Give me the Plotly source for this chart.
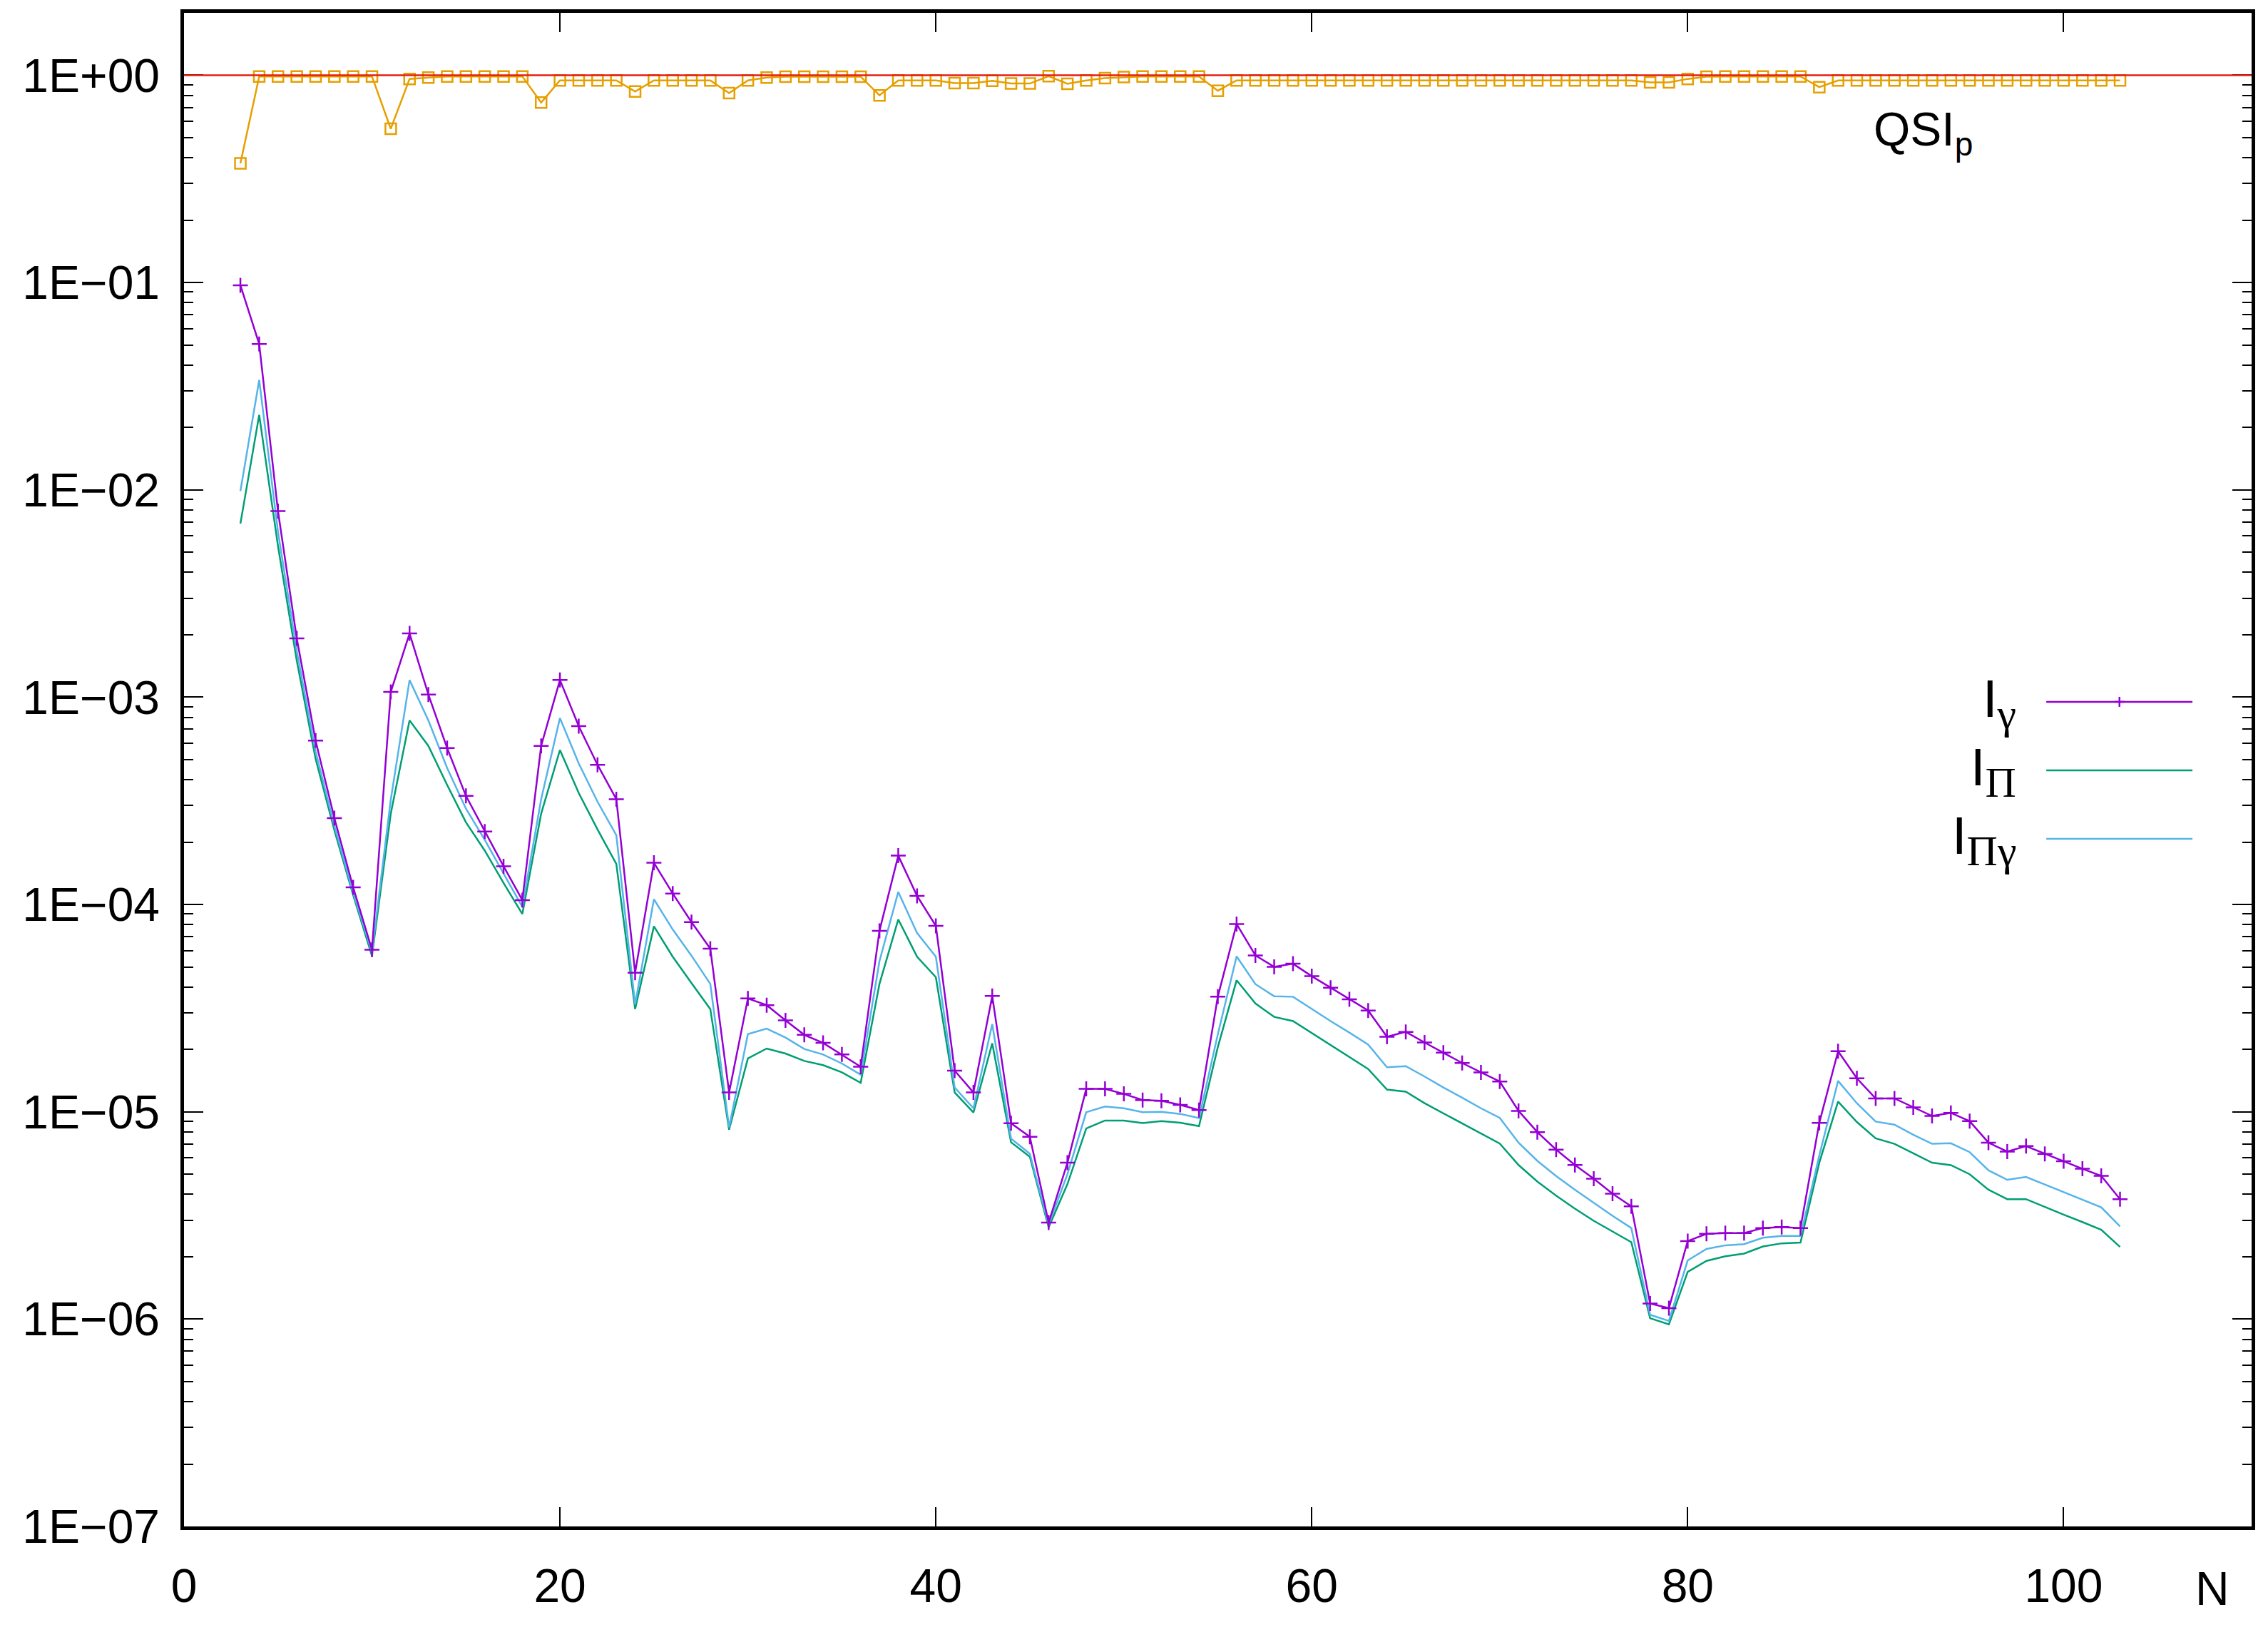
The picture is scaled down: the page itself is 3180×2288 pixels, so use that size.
import plotly.graph_objects as go

# chain length N, one value per N from 3 to 103
n_values = list(range(3, 104))

# I_gamma (purple, with + markers)
i_gamma = [
    0.097, 0.0505, 0.0079, 0.00192, 0.000618, 0.000261, 0.000121, 6.05e-5, 0.00106, 0.00203,
    0.00103, 0.000568, 0.000334, 0.000225, 0.000153, 0.000105, 0.000582, 0.00121, 0.000725, 0.000472,
    0.000322, 4.69e-5, 0.000159, 0.000113, 8.22e-5, 6.12e-5, 1.24e-5, 3.52e-5, 3.27e-5, 2.76e-5,
    2.35e-5, 2.15e-5, 1.89e-5, 1.65e-5, 7.47e-5, 0.000172, 0.000110, 7.89e-5, 1.58e-5, 1.24e-5,
    3.62e-5, 8.81e-6, 7.57e-6, 2.92e-6, 5.68e-6, 1.29e-5, 1.29e-5, 1.22e-5, 1.14e-5, 1.13e-5,
    1.08e-5, 1.02e-5, 3.59e-5, 8.05e-5, 5.68e-5, 5.0e-5, 5.18e-5, 4.51e-5, 3.97e-5, 3.49e-5,
    3.08e-5, 2.3e-5, 2.43e-5, 2.16e-5, 1.93e-5, 1.72e-5, 1.55e-5, 1.4e-5, 1.01e-5, 7.98e-6,
    6.57e-6, 5.54e-6, 4.76e-6, 4.03e-6, 3.5e-6, 1.19e-6, 1.13e-6, 2.38e-6, 2.58e-6, 2.6e-6,
    2.6e-6, 2.75e-6, 2.78e-6, 2.75e-6, 8.85e-6, 1.96e-5, 1.45e-5, 1.16e-5, 1.16e-5, 1.05e-5,
    9.55e-6, 9.88e-6, 9.01e-6, 7.1e-6, 6.43e-6, 6.83e-6, 6.27e-6, 5.78e-6, 5.31e-6, 4.91e-6,
    3.79e-6,
]

# I_Pi (green)
i_pi = [
    0.00687, 0.0230, 0.00536, 0.0015, 0.000505, 0.000228, 0.000111, 5.65e-5, 0.000274, 0.000773,
    0.000582, 0.000377, 0.000249, 0.000182, 0.000127, 9.0e-5, 0.000274, 0.000556, 0.000345, 0.00023,
    0.000157, 3.13e-5, 7.85e-5, 5.6e-5, 4.18e-5, 3.13e-5, 8.2e-6, 1.81e-5, 2.02e-5, 1.91e-5,
    1.76e-5, 1.68e-5, 1.55e-5, 1.38e-5, 4.14e-5, 8.47e-5, 5.6e-5, 4.46e-5, 1.24e-5, 9.93e-6,
    2.14e-5, 7.13e-6, 6.07e-6, 2.77e-6, 4.48e-6, 8.31e-6, 9.08e-6, 9.08e-6, 8.83e-6, 9.02e-6,
    8.86e-6, 8.53e-6, 2.05e-5, 4.31e-5, 3.33e-5, 2.87e-5, 2.74e-5, 2.4e-5, 2.1e-5, 1.83e-5,
    1.61e-5, 1.28e-5, 1.25e-5, 1.1e-5, 9.84e-6, 8.79e-6, 7.84e-6, 7.03e-6, 5.54e-6, 4.61e-6,
    3.94e-6, 3.41e-6, 2.98e-6, 2.64e-6, 2.35e-6, 1.01e-6, 9.44e-7, 1.69e-6, 1.91e-6, 2.01e-6,
    2.07e-6, 2.24e-6, 2.32e-6, 2.34e-6, 5.68e-6, 1.12e-5, 8.93e-6, 7.45e-6, 7.01e-6, 6.31e-6,
    5.68e-6, 5.53e-6, 5.0e-6, 4.21e-6, 3.79e-6, 3.79e-6, 3.47e-6, 3.19e-6, 2.94e-6, 2.7e-6,
    2.23e-6,
]

# I_PiGamma (light blue)
i_pi_gamma = [
    0.00986, 0.0339, 0.00628, 0.00167, 0.000547, 0.00024, 0.000114, 5.89e-5, 0.00032, 0.00121,
    0.000773, 0.000455, 0.00029, 0.000205, 0.000141, 9.75e-5, 0.000322, 0.000793, 0.000479, 0.000313,
    0.000216, 3.3e-5, 0.000106, 7.58e-5, 5.66e-5, 4.14e-5, 8.42e-6, 2.37e-5, 2.52e-5, 2.28e-5,
    2.01e-5, 1.89e-5, 1.71e-5, 1.51e-5, 5.33e-5, 0.000115, 7.28e-5, 5.6e-5, 1.31e-5, 1.04e-5,
    2.65e-5, 7.43e-6, 6.28e-6, 2.85e-6, 5.0e-6, 9.95e-6, 1.06e-5, 1.04e-5, 9.95e-6, 1.0e-5,
    9.77e-6, 9.33e-6, 2.36e-5, 5.62e-5, 4.13e-5, 3.61e-5, 3.59e-5, 3.13e-5, 2.74e-5, 2.41e-5,
    2.11e-5, 1.64e-5, 1.66e-5, 1.48e-5, 1.31e-5, 1.17e-5, 1.04e-5, 9.35e-6, 7.1e-6, 5.8e-6,
    4.9e-6, 4.21e-6, 3.63e-6, 3.15e-6, 2.75e-6, 1.05e-6, 9.8e-7, 1.92e-6, 2.18e-6, 2.27e-6,
    2.3e-6, 2.47e-6, 2.52e-6, 2.52e-6, 6.15e-6, 1.41e-5, 1.1e-5, 8.97e-6, 8.67e-6, 7.75e-6,
    7.01e-6, 7.05e-6, 6.39e-6, 5.22e-6, 4.7e-6, 4.85e-6, 4.46e-6, 4.09e-6, 3.76e-6, 3.46e-6,
    2.8e-6,
]

# QSI_p (orange, open squares)
qsi_p = [
    0.376, 0.987, 0.987, 0.987, 0.987, 0.987, 0.987, 0.987, 0.552, 0.96,
    0.975, 0.987, 0.987, 0.987, 0.987, 0.987, 0.738, 0.944, 0.944, 0.944,
    0.944, 0.835, 0.944, 0.944, 0.944, 0.944, 0.82, 0.944, 0.974, 0.985,
    0.985, 0.985, 0.985, 0.985, 0.80, 0.944, 0.944, 0.944, 0.917, 0.917,
    0.94, 0.912, 0.912, 0.99, 0.91, 0.944, 0.969, 0.98, 0.987, 0.987,
    0.987, 0.987, 0.842, 0.944, 0.944, 0.944, 0.944, 0.944, 0.944, 0.944,
    0.944, 0.944, 0.944, 0.944, 0.944, 0.944, 0.944, 0.944, 0.944, 0.944,
    0.944, 0.944, 0.944, 0.944, 0.944, 0.924, 0.924, 0.96, 0.985, 0.987,
    0.987, 0.987, 0.987, 0.987, 0.876, 0.944, 0.944, 0.944, 0.944, 0.944,
    0.944, 0.944, 0.944, 0.944, 0.944, 0.944, 0.944, 0.944, 0.944, 0.944,
    0.944,
]

qsi_ref = 1.0  # red reference line

y_tickvals = [1, 1e-1, 1e-2, 1e-3, 1e-4, 1e-5, 1e-6, 1e-7]
y_ticktext = ["1E+00", "1E\u221201", "1E\u221202", "1E\u221203",
              "1E\u221204", "1E\u221205", "1E\u221206", "1E\u221207"]
x_tickvals = [0, 20, 40, 60, 80, 100]

PURPLE = "#9400d3"
GREEN = "#009e73"
BLUE = "#56b4e9"
ORANGE = "#e69f00"
RED = "#e51e10"
SANS = "Liberation Sans"
SERIF = "Liberation Serif"

fig = go.Figure()
fig.add_trace(go.Scatter(x=n_values, y=qsi_p, mode="lines+markers",
                         line=dict(color=ORANGE, width=2.5),
                         marker=dict(symbol="square-open", size=15,
                                     line=dict(color=ORANGE, width=2.5))))
fig.add_trace(go.Scatter(x=n_values, y=i_pi, mode="lines",
                         line=dict(color=GREEN, width=2.5)))
fig.add_trace(go.Scatter(x=n_values, y=i_pi_gamma, mode="lines",
                         line=dict(color=BLUE, width=2.5)))
fig.add_trace(go.Scatter(x=n_values, y=i_gamma, mode="lines+markers",
                         line=dict(color=PURPLE, width=2.5),
                         marker=dict(symbol="cross-thin", size=15,
                                     line=dict(color=PURPLE, width=2.5))))
fig.add_hline(y=qsi_ref, line=dict(color=RED, width=2.5))


def greek(s):
    return ("<span style='font-family:%s;font-size:60px'>%s</span>"
            % (SERIF, s))


# gnuplot style key: text right aligned, sample to the right
key_items = [
    ("I<sub>" + greek("\u03b3") + "</sub>", PURPLE, True, 0.5448),
    ("I<sub>" + greek("\u03a0") + "</sub>", GREEN, False, 0.4995),
    ("I<sub>" + greek("\u03a0\u03b3") + "</sub>", BLUE, False, 0.4543),
]
for text, color, plus, ky in key_items:
    fig.add_annotation(x=0.887, y=ky, xref="paper", yref="paper",
                       text=text, showarrow=False, xanchor="right",
                       yanchor="middle", yshift=-2,
                       font=dict(family=SANS, size=74, color="black"))
    fig.add_shape(type="line", xref="paper", yref="paper",
                  x0=0.9007, x1=0.9714, y0=ky, y1=ky,
                  line=dict(color=color, width=2.5))
    if plus:
        fig.add_shape(type="line", xref="paper", yref="paper",
                      xsizemode="pixel", xanchor=0.9361, x0=-7, x1=7,
                      y0=ky, y1=ky, line=dict(color=color, width=2.5))
        fig.add_shape(type="line", xref="paper", yref="paper",
                      xsizemode="pixel", xanchor=0.9361, x0=0, x1=0,
                      ysizemode="pixel", yanchor=ky, y0=-7, y1=7,
                      line=dict(color=color, width=2.5))

fig.add_annotation(x=0.8165, y=0.921, xref="paper", yref="paper",
                   text="QSI<sub>p</sub>", showarrow=False,
                   xanchor="left", yanchor="middle",
                   font=dict(family=SANS, size=66, color="black"))
fig.add_annotation(x=0.981, y=-0.041, xref="paper", yref="paper",
                   text="N", showarrow=False, xanchor="center",
                   yanchor="middle",
                   font=dict(family=SANS, size=66, color="black"))

fig.update_xaxes(range=[0, 110], tickvals=x_tickvals, ticks="inside",
                 ticklen=27, tickwidth=2, tickcolor="black",
                 showline=True, linewidth=4.5, linecolor="black",
                 mirror="ticks", showgrid=False, zeroline=False,
                 automargin=False, ticklabelstandoff=22,
                 tickfont=dict(family=SANS, size=66, color="black"))
fig.update_yaxes(type="log", range=[-7, 0.301], tickvals=y_tickvals,
                 ticktext=y_ticktext, ticks="inside", ticklen=27,
                 tickwidth=2, tickcolor="black",
                 minor=dict(ticks="inside", ticklen=13, tickwidth=1.5,
                            tickcolor="black", dtick="D1", showgrid=False),
                 showline=True, linewidth=4.5, linecolor="black",
                 mirror="ticks", showgrid=False, zeroline=False,
                 automargin=False, ticklabelstandoff=16,
                 tickfont=dict(family=SANS, size=66, color="black"))
# the page body adds 8 px on each side, so the figure is 16 px smaller
fig.update_layout(width=3164, height=2272, showlegend=False,
                  margin=dict(l=250, r=15, t=10, b=140),
                  plot_bgcolor="white", paper_bgcolor="white")
fig.write_html("out.html")
